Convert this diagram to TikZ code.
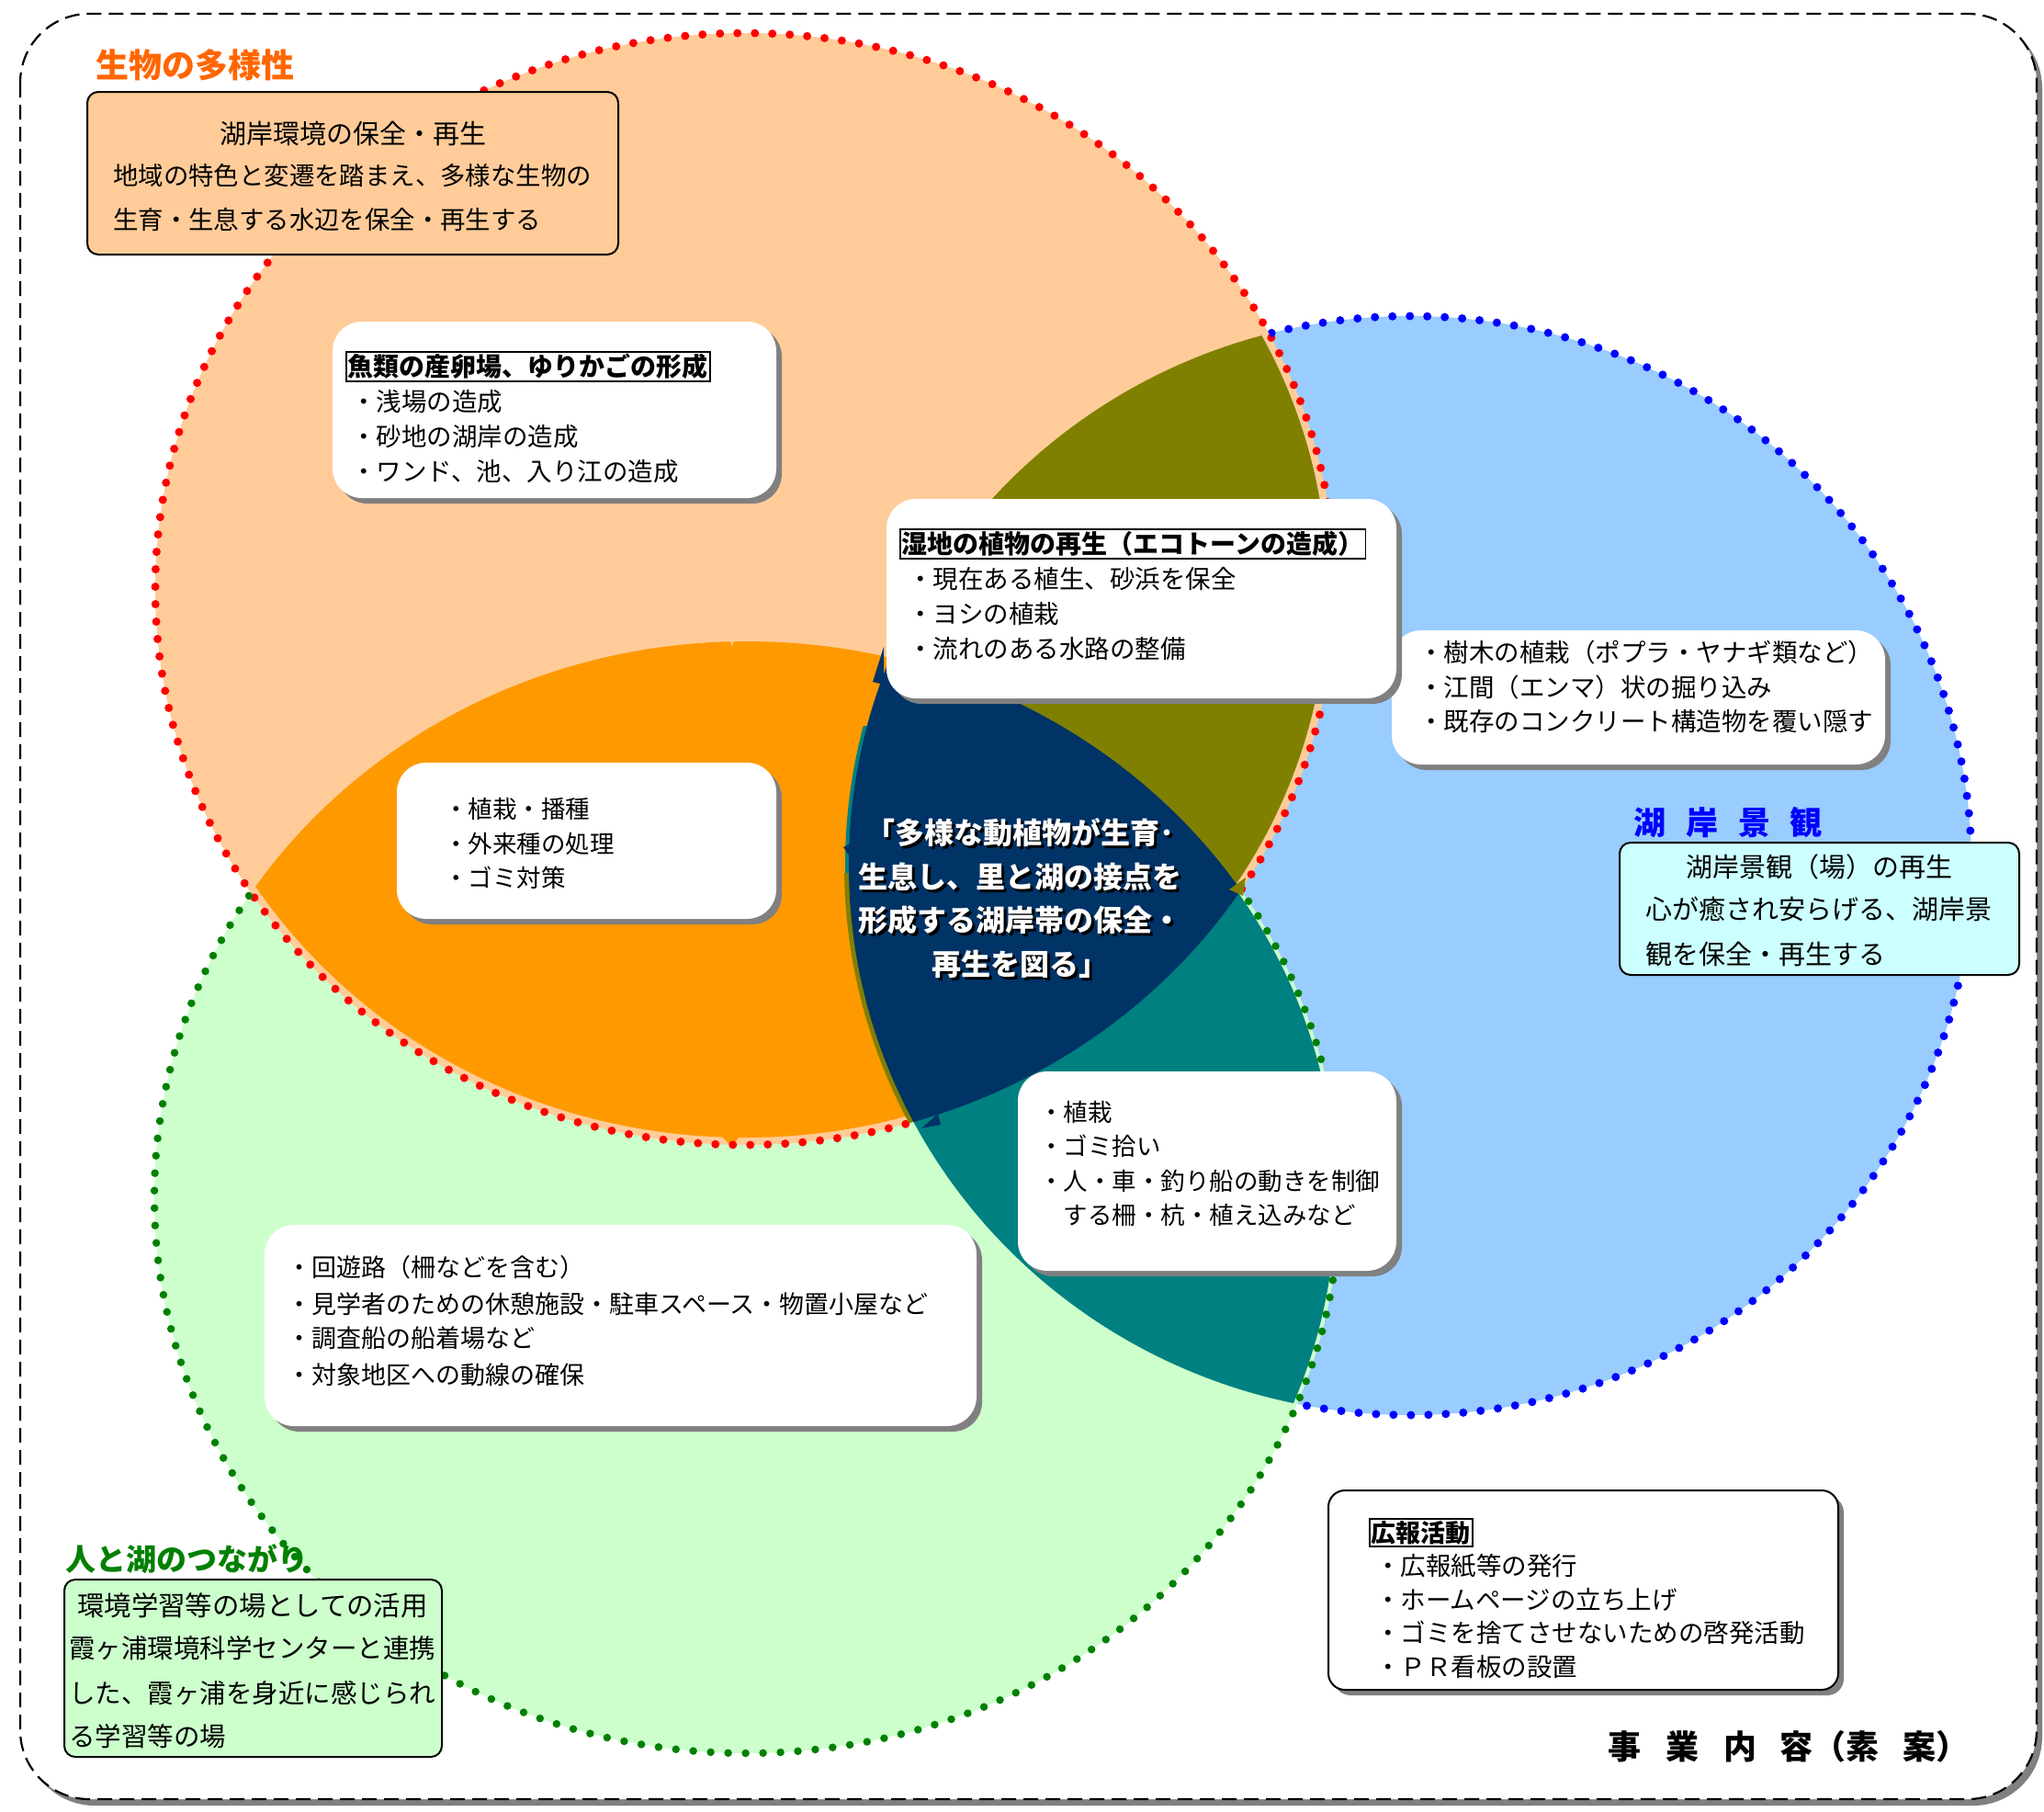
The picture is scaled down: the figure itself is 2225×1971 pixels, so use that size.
\documentclass[tikz,border=0pt]{standalone}
\usepackage{fontspec}
\newfontfamily\jp{Noto Sans CJK JP}
\usetikzlibrary{shadows}
\definecolor{peach}{HTML}{FFCC99}
\definecolor{lblue}{HTML}{99CCFF}
\definecolor{lgreen}{HTML}{CCFFCC}
\definecolor{orng}{HTML}{FF9900}
\definecolor{olv}{HTML}{808000}
\definecolor{tealc}{HTML}{008080}
\definecolor{nvy}{HTML}{003366}
\definecolor{lcyan}{HTML}{CCFFFF}
\definecolor{ttlorange}{HTML}{FF6600}
\definecolor{dgreen}{HTML}{008000}
\definecolor{shd}{HTML}{808080}
\definecolor{ttlblue}{HTML}{0000FF}
\newcommand\jfs[1]{\fontsize{#1}{#1}\selectfont}
\begin{document}
\begin{tikzpicture}[x=1pt,y=-1pt,
  every node/.style={inner sep=0pt},
  wbox/.style={fill=white, draw=none, rounded corners=32pt,
    drop shadow={shadow xshift=6pt, shadow yshift=-6pt, fill=shd, opacity=1}},
  cbox/.style={draw=black, line width=2pt, rounded corners=12pt},
  ttlbox/.style={draw=black, line width=1.8pt, inner sep=2pt, anchor=west, font=\jp\bfseries\jfs{28}},
  item/.style={anchor=west, font=\jp\jfs{27.5}},
  itemsm/.style={anchor=west, font=\jp\jfs{26.5}},
  bodyb/.style={anchor=west, font=\jp\jfs{28.5}},
  ctext/.style={font=\jp\bfseries\jfs{32}},
  rdots/.style={draw=red, line width=9pt, line cap=round, dash pattern=on 0pt off 19pt},
  gdots/.style={draw=dgreen, line width=8.5pt, line cap=round, dash pattern=on 0pt off 19pt},
  bdots/.style={draw=blue, line width=9pt, line cap=round, dash pattern=on 0pt off 19pt}
]
\useasboundingbox (0,0) rectangle (2225,1971);
% outer frame
\fill[shd, rounded corners=75pt] (28,21) rectangle (2223,1965);
\filldraw[fill=white, draw=black, line width=2.2pt, dash pattern=on 16pt off 8pt, rounded corners=75pt] (22,15) rectangle (2217,1958);

% circle fills
\fill[lblue] (1535,942) ellipse [x radius=611pt, y radius=598pt];
\fill[lgreen] (813,1303) ellipse [x radius=645pt, y radius=605pt];
\fill[peach] (811,641) ellipse [x radius=642pt, y radius=605pt];

% overlaps with red (slightly inset)
\begin{scope}
  \clip (811,641) ellipse [x radius=634pt, y radius=597pt];
  \fill[orng] (813,1303) ellipse [x radius=645pt, y radius=605pt];
  \fill[olv] (1535,942) ellipse [x radius=611pt, y radius=598pt];
\end{scope}
\fill[peach] (790,686) -- (803,684) -- (797,703) -- cycle;
\fill[orng] (785,1236) -- (806,1236) -- (796,1247) -- cycle;

% red dotted outline
\draw[rdots] (811,641) ellipse [x radius=642pt, y radius=605pt];

% green-blue overlap
\begin{scope}
  \clip (813,1303) ellipse [x radius=641pt, y radius=601pt];
  \fill[tealc] (1535,942) ellipse [x radius=611pt, y radius=598pt];
\end{scope}

% thin strips and centre
\begin{scope}
  \clip (811,641) ellipse [x radius=642pt, y radius=605pt];
  \clip (813,1303) ellipse [x radius=645pt, y radius=605pt];
  \begin{scope}
    \clip (850,790) rectangle (1000,950);
    \draw[tealc, line width=8pt] (1535,942) ellipse [x radius=611pt, y radius=598pt];
  \end{scope}
  \begin{scope}
    \clip (850,950) rectangle (1060,1235);
    \draw[olv, line width=10pt] (1535,942) ellipse [x radius=611pt, y radius=598pt];
  \end{scope}
  \fill[nvy] (1535,942) ellipse [x radius=611pt, y radius=598pt];
\end{scope}
\fill[nvy] (962,704) -- (950,742) -- (962,745) -- cycle;
\fill[nvy] (918,922) -- (934,914) -- (936,948) -- cycle;
\fill[nvy] (1003,1228) -- (1021,1212) -- (1024,1224) -- cycle;
\fill[olv] (1338,968) -- (1356,955) -- (1353,975) -- cycle;

% green dots outside red
\begin{scope}[even odd rule]
  \clip (0,0) rectangle (2225,1971) (811,641) ellipse [x radius=642pt, y radius=605pt];
  \draw[gdots] (813,1303) ellipse [x radius=645pt, y radius=605pt];
\end{scope}
% blue dots outside red and green
\begin{scope}[even odd rule]
  \clip (0,0) rectangle (2225,1971) (811,641) ellipse [x radius=642pt, y radius=605pt];
  \clip (0,0) rectangle (2225,1971) (813,1303) ellipse [x radius=645pt, y radius=605pt];
  \draw[bdots] (1535,942) ellipse [x radius=611pt, y radius=598pt];
\end{scope}

% ---- titles ----
\node[font=\jp\bfseries\jfs{36}, text=ttlorange] (tBio) at (212,71) {生物の多様性};
\node[font=\jp\bfseries\jfs{35}, text=ttlblue] (tKei) at (1881,895) {湖\hspace{22pt}岸\hspace{22pt}景\hspace{22pt}観};
\node[font=\jp\bfseries\jfs{33}, text=dgreen] (tHito) at (203,1697) {人と湖のつながり};
\node[anchor=west, font=\jp\bfseries\jfs{36}] (tJigyo) at (1750,1901) {事\hspace{27pt}業\hspace{27pt}内\hspace{25pt}容（素\hspace{26pt}案）};

% ---- 湖岸環境の保全・再生 ----
\node[cbox, fill=peach, minimum width=578pt, minimum height=177pt] (bEnv) at (384,188.5) {};
\node[font=\jp\jfs{29}] (eT) at (384,145) {湖岸環境の保全・再生};
\node[anchor=west, font=\jp\jfs{27.4}] (e1) at (123,191) {地域の特色と変遷を踏まえ、多様な生物の};
\node[anchor=west, font=\jp\jfs{27.4}] (e2) at (123,239) {生育・生息する水辺を保全・再生する};

% ---- 魚類 ----
\node[wbox, minimum width=483pt, minimum height=192pt] (bFish) at (603.5,446) {};
\node[ttlbox] (fT) at (376,399) {魚類の産卵場、ゆりかごの形成};
\node[item] (f1) at (382,437) {・浅場の造成};
\node[item] (f2) at (382,475) {・砂地の湖岸の造成};
\node[item] (f3) at (382,513) {・ワンド、池、入り江の造成};

% ---- 樹木 ----
\node[wbox, minimum width=537pt, minimum height=146pt] (bTree) at (1783.5,759) {};
\node[item] (r1) at (1544,710) {・樹木の植栽（ポプラ・ヤナギ類など）};
\node[item] (r2) at (1544,748) {・江間（エンマ）状の掘り込み};
\node[item] (r3) at (1544,785) {・既存のコンクリート構造物を覆い隠す};

% ---- 湿地 ----
\node[wbox, minimum width=555pt, minimum height=217pt] (bWet) at (1242.5,651.5) {};
\node[ttlbox] (wT) at (979,592) {湿地の植物の再生（エコトーンの造成）};
\node[item] (w1) at (988,630) {・現在ある植生、砂浜を保全};
\node[item] (w2) at (988,668) {・ヨシの植栽};
\node[item] (w3) at (988,706) {・流れのある水路の整備};

% ---- 湖岸景観 ----
\node[cbox, fill=lcyan, minimum width=435pt, minimum height=144pt] (bKei) at (1980.5,989) {};
\node[font=\jp\jfs{29}] (kT) at (1980,943) {湖岸景観（場）の再生};
\node[anchor=west, font=\jp\jfs{29}] (k1) at (1791,989) {心が癒され安らげる、湖岸景};
\node[anchor=west, font=\jp\jfs{29}] (k2) at (1791,1038) {観を保全・再生する};

% ---- 植栽・播種 ----
\node[wbox, minimum width=413pt, minimum height=170pt] (bPlant) at (638.5,915) {};
\node[itemsm] (p1) at (483,880) {・植栽・播種};
\node[itemsm] (p2) at (483,918) {・外来種の処理};
\node[itemsm] (p3) at (483,955) {・ゴミ対策};

% ---- centre text ----
\node[ctext, text=black] (c1s) at (1113,909) {「多様な動植物が生育･};
\node[ctext, text=white] (c1) at (1110,906) {「多様な動植物が生育･};
\node[ctext, text=black] (c2s) at (1113,957) {生息し、里と湖の接点を};
\node[ctext, text=white] (c2) at (1110,954) {生息し、里と湖の接点を};
\node[ctext, text=black] (c3s) at (1113,1004) {形成する湖岸帯の保全・};
\node[ctext, text=white] (c3) at (1110,1001) {形成する湖岸帯の保全・};
\node[ctext, text=black] (c4s) at (1113,1052) {再生を図る」};
\node[ctext, text=white] (c4) at (1110,1049) {再生を図る」};

% ---- 植栽・ゴミ拾い ----
\node[wbox, minimum width=412pt, minimum height=217pt] (bGomi) at (1314,1274.5) {};
\node[itemsm] (g1) at (1131,1210) {・植栽};
\node[itemsm] (g2) at (1131,1247) {・ゴミ拾い};
\node[itemsm] (g3) at (1131,1285) {・人・車・釣り船の動きを制御};
\node[itemsm] (g4) at (1131,1322) {　する柵・杭・植え込みなど};

% ---- 回遊路 ----
\node[wbox, minimum width=775pt, minimum height=219pt] (bRoute) at (675.5,1442.5) {};
\node[anchor=west, font=\jp\jfs{27}] (o1) at (312,1379) {・回遊路（柵などを含む）};
\node[anchor=west, font=\jp\jfs{27}] (o2) at (312,1419) {・見学者のための休憩施設・駐車スペース・物置小屋など};
\node[anchor=west, font=\jp\jfs{27}] (o3) at (312,1456) {・調査船の船着場など};
\node[anchor=west, font=\jp\jfs{27}] (o4) at (312,1496) {・対象地区への動線の確保};

% ---- 環境学習 ----
\node[cbox, fill=lgreen, minimum width=411pt, minimum height=193pt] (bEdu) at (275.5,1815.5) {};
\node[font=\jp\jfs{29.4}] (dT) at (275,1747) {環境学習等の場としての活用};
\node[bodyb] (d1) at (75,1794) {霞ヶ浦環境科学センターと連携};
\node[bodyb] (d2) at (75,1843) {した、霞ヶ浦を身近に感じられ};
\node[bodyb] (d3) at (75,1890) {る学習等の場};

% ---- 広報活動 ----
\node[cbox, fill=white, rounded corners=18pt, minimum width=555pt, minimum height=217pt,
  drop shadow={shadow xshift=6pt, shadow yshift=-6pt, fill=shd, opacity=1}] (bPR) at (1723.5,1730.5) {};
\node[ttlbox, font=\jp\bfseries\jfs{27}] (prT) at (1490,1668) {広報活動};
\node[item] (pr1) at (1497,1704) {・広報紙等の発行};
\node[item] (pr2) at (1497,1741) {・ホームページの立ち上げ};
\node[item] (pr3) at (1497,1777) {・ゴミを捨てさせないための啓発活動};
\node[item] (pr4) at (1497,1814) {・ＰＲ看板の設置};
\end{tikzpicture}
\end{document}
